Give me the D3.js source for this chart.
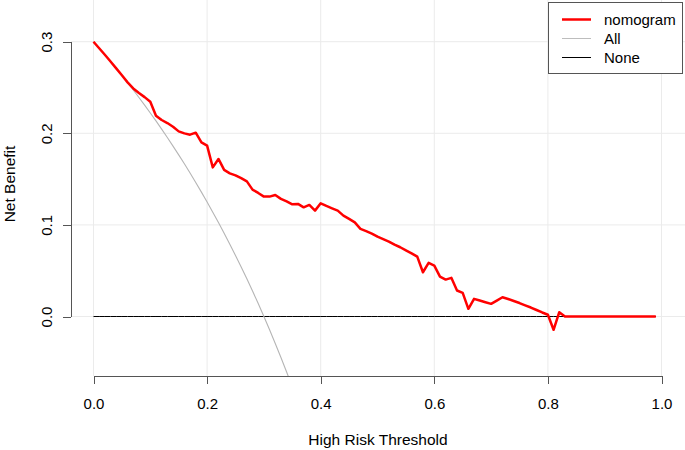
<!DOCTYPE html>
<html><head><meta charset="utf-8">
<script src="https://cdn.jsdelivr.net/npm/d3@7"></script>
<style>
body{margin:0;background:#fff}
svg{display:block;font-family:"Liberation Sans",Arial,Helvetica,sans-serif}
</style>
</head><body>
<svg id="chart" width="685" height="450"></svg>
<script>
// ---------- data ----------
const thresholds = [0.00,0.01,0.02,0.03,0.04,0.05,0.06,0.07,0.08,0.09,
  0.10,0.11,0.12,0.13,0.14,0.15,0.16,0.17,0.18,0.19,
  0.20,0.21,0.22,0.23,0.24,0.25,0.26,0.27,0.28,0.29,
  0.30,0.31,0.32,0.33,0.34,0.35,0.36,0.37,0.38,0.39,
  0.40,0.41,0.42,0.43,0.44,0.45,0.46,0.47,0.48,0.49,
  0.50,0.51,0.52,0.53,0.54,0.55,0.56,0.57,0.58,0.59,
  0.60,0.61,0.62,0.63,0.64,0.65,0.66,0.67,0.68,0.69,
  0.70,0.71,0.72,0.73,0.74,0.75,0.76,0.77,0.78,0.79,
  0.80,0.81,0.82,0.83,0.84,0.85,0.86,0.87,0.88,0.89,
  0.90,0.91,0.92,0.93,0.94,0.95,0.96,0.97,0.98,0.99];

const nomogramNB = [0.3000,0.2929,0.2857,0.2784,0.2709,0.2633,0.2556,0.2490,0.2440,0.2395,
  0.2345,0.2192,0.2145,0.2112,0.2072,0.2021,0.1999,0.1985,0.2007,0.1901,
  0.1865,0.1628,0.1720,0.1600,0.1563,0.1541,0.1510,0.1475,0.1385,0.1349,
  0.1309,0.1309,0.1327,0.1284,0.1257,0.1225,0.1229,0.1192,0.1218,0.1156,
  0.1236,0.1207,0.1181,0.1156,0.1101,0.1065,0.1028,0.0956,0.0932,0.0905,
  0.0872,0.0845,0.0818,0.0785,0.0756,0.0723,0.0690,0.0654,0.0483,0.0586,
  0.0556,0.0436,0.0403,0.0422,0.0284,0.0258,0.0084,0.0193,0.0174,0.0156,
  0.0138,0.0174,0.0210,0.0191,0.0169,0.0147,0.0122,0.0098,0.0071,0.0044,
  0.0019,-0.0145,0.0047,0.0000,0.0000,0.0000,0.0000,0.0000,0.0000,0.0000,
  0.0000,0.0000,0.0000,0.0000,0.0000,0.0000,0.0000,0.0000,0.0000,0.0000];

// "All" (treat everyone) net benefit, read at the first thresholds (rest is off the plot)
const allNB = [0.3000,0.2929,0.2857,0.2784,0.2708,0.2632,0.2553,0.2473,0.2391,0.2308,
  0.2222,0.2135,0.2045,0.1954,0.1860,0.1765,0.1667,0.1566,0.1463,0.1358,
  0.1250,0.1139,0.1026,0.0909,0.0789,0.0667,0.0541,0.0411,0.0278,0.0141,
  0.0000,-0.0145,-0.0294,-0.0448,-0.0606,-0.0769,-0.0938];

const noneNB = thresholds.map(() => 0);

const xTicks = [0, 0.2, 0.4, 0.6, 0.8, 1.0];
const yTicks = [0, 0.1, 0.2, 0.3];
const legendLabels = ["nomogram", "All", "None"];
const legendColors = ["#ff0000", "#bdbdbd", "#000000"];

// ---------- layout ----------
const svg = d3.select("#chart");
const plot = {left: 71, right: 685, top: 0, bottom: 376};
const x = d3.scaleLinear().domain([0, 1]).range([93.5, 661.5]);
const y = d3.scaleLinear().domain([0, 0.3]).range([316.5, 41.7]);

// grid
const grid = svg.append("g").attr("stroke", "#ebebeb").attr("stroke-width", 1);
grid.selectAll("line.v").data(xTicks).join("line")
  .attr("x1", d => x(d)).attr("x2", d => x(d))
  .attr("y1", plot.top).attr("y2", plot.bottom);
grid.selectAll("line.h").data(yTicks).join("line")
  .attr("x1", plot.left).attr("x2", plot.right)
  .attr("y1", d => y(d)).attr("y2", d => y(d));

// clip
svg.append("clipPath").attr("id", "clip").append("rect")
  .attr("x", plot.left).attr("y", plot.top)
  .attr("width", plot.right - plot.left).attr("height", plot.bottom - plot.top);
const g = svg.append("g").attr("clip-path", "url(#clip)");

const line = d3.line().x(d => x(d[0])).y(d => y(d[1]));

g.append("path").datum(thresholds.map((t, i) => [t, noneNB[i]]))
  .attr("d", line).attr("fill", "none").attr("stroke", "#000").attr("stroke-width", 1);
g.append("path").datum(allNB.map((v, i) => [thresholds[i], v]))
  .attr("d", line).attr("fill", "none").attr("stroke", "#b5b5b5").attr("stroke-width", 1.1);
g.append("path").datum(thresholds.map((t, i) => [t, nomogramNB[i]]))
  .attr("d", line).attr("fill", "none").attr("stroke", "#ff0000")
  .attr("stroke-width", 2.5).attr("stroke-linejoin", "round");

// axes
const axisColor = "#555";
const xAxis = svg.append("g").attr("transform", `translate(0,${plot.bottom})`)
  .call(d3.axisBottom(x).tickValues(xTicks).tickSize(8).tickSizeOuter(0)
    .tickFormat(d3.format(".1f")));
xAxis.select(".domain").attr("stroke", axisColor);
xAxis.selectAll(".tick line").attr("stroke", axisColor);
xAxis.selectAll(".tick text").attr("y", 33).attr("dy", 0)
  .attr("font-size", 15).attr("fill", "#000").attr("font-family", null);

const yAxis = svg.append("g").attr("transform", `translate(${plot.left},0)`)
  .call(d3.axisLeft(y).tickValues(yTicks).tickSize(8).tickSizeOuter(0)
    .tickFormat(d3.format(".1f")));
yAxis.select(".domain").attr("stroke", axisColor);
yAxis.selectAll(".tick line").attr("stroke", axisColor);
yAxis.selectAll(".tick text")
  .attr("x", 0).attr("dy", 0).attr("text-anchor", "middle")
  .attr("transform", "translate(-19,0) rotate(-90)")
  .attr("font-size", 15).attr("fill", "#000").attr("font-family", null);
svg.selectAll(".domain, .tick line").attr("shape-rendering", "crispEdges");

// axis titles
svg.append("text").attr("x", (plot.left + plot.right) / 2).attr("y", 445)
  .attr("text-anchor", "middle").attr("font-size", 15.5).attr("fill", "#000")
  .text("High Risk Threshold");
svg.append("text").attr("transform", "translate(15,184) rotate(-90)")
  .attr("text-anchor", "middle").attr("font-size", 15.5).attr("fill", "#000")
  .text("Net Benefit");

// legend
const lg = svg.append("g");
lg.append("rect").attr("x", 548.5).attr("y", 2.5).attr("width", 134).attr("height", 71)
  .attr("fill", "#fff").attr("stroke", "#555").attr("stroke-width", 1);
const items = lg.selectAll("g.item").data(legendLabels).join("g")
  .attr("transform", (d, i) => `translate(0,${19.5 + i * 19})`);
items.append("line").attr("x1", 562).attr("x2", 591).attr("y1", 0).attr("y2", 0)
  .attr("stroke", (d, i) => legendColors[i])
  .attr("stroke-width", (d, i) => i === 0 ? 2.5 : 1);
items.append("text").attr("x", 604).attr("y", 5.5).attr("font-size", 15)
  .attr("fill", "#000").text(d => d);
</script>
</body></html>
